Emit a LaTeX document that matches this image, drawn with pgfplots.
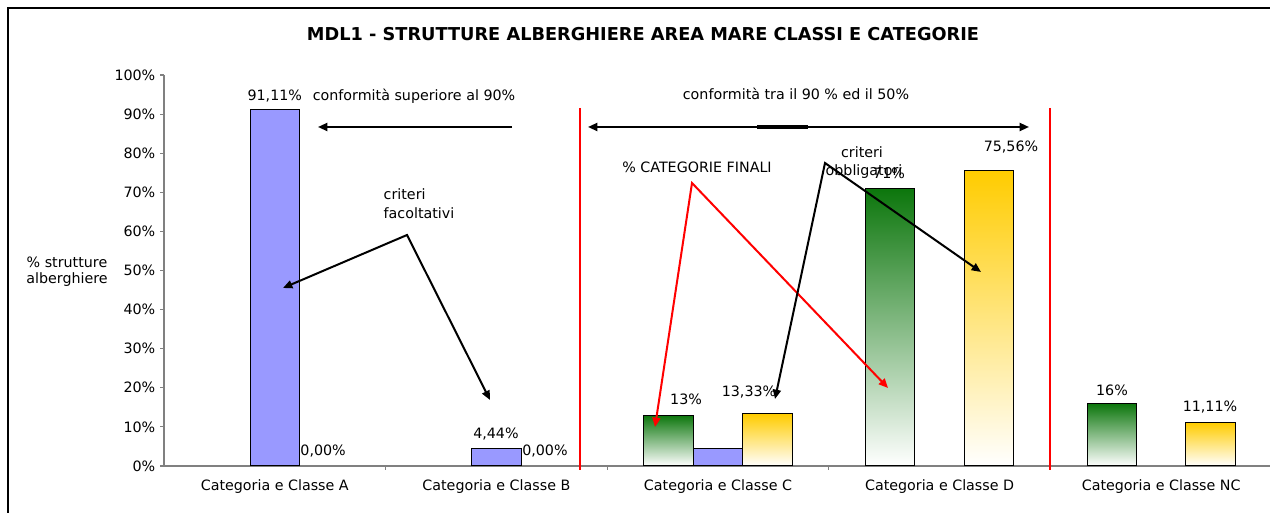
\documentclass[border=0pt]{standalone}
\usepackage{fontspec}
\setmainfont{DejaVu Sans}
\usepackage{pgfplots}
\pgfplotsset{compat=1.18}
\usetikzlibrary{arrows.meta}

\definecolor{barblue}{RGB}{153,153,255}
\definecolor{bargreen}{RGB}{12,118,12}
\definecolor{baryellow}{RGB}{255,204,0}
\definecolor{axisgray}{RGB}{128,128,128}
\newcommand{\lbl}{\fontsize{10.7}{12}\selectfont}

\begin{document}
\begin{tikzpicture}[x=0.75pt,y=0.75pt]
\useasboundingbox (0,0) rectangle (1270,513);

% axis box: left edge at x=164 px, x axis at y=466 px (from top)
\begin{axis}[
    at={(123pt,35.25pt)}, anchor=south west,
    scale only axis,
    width=831pt, height=293.25pt,
    xmin=-0.5, xmax=4.5,
    ymin=0, ymax=100,
    ybar, bar width=37.1pt,
    axis x line*=bottom, axis y line*=left,
    axis line style={axisgray, line width=1pt, -},
    tick align=outside,
    tick style={axisgray, line width=0.8pt},
    major tick length=3pt,
    xtick={0,1,2,3,4},
    xticklabels={Categoria e Classe A, Categoria e Classe B, Categoria e Classe C,
                 Categoria e Classe D, Categoria e Classe NC},
    major x tick style={draw=none},
    minor xtick={0.5,1.5,2.5,3.5},
    minor tick length=3pt,
    ytick={0,10,...,100},
    yticklabels={0\%,10\%,20\%,30\%,40\%,50\%,60\%,70\%,80\%,90\%,100\%},
    ticklabel style={font=\lbl},
    xticklabel style={yshift=-4pt},
    clip=false,
    green bar/.style={draw=black, line width=0.75pt, bar shift=-37.1pt,
        top color=bargreen, bottom color=white},
    blue bar/.style={draw=black, line width=0.75pt, bar shift=0pt, fill=barblue},
    yellow bar/.style={draw=black, line width=0.75pt, bar shift=37.1pt,
        top color=baryellow, bottom color=white},
]

% categorie finali (verde) - one plot per bar so each bar gets its own gradient
\addplot[green bar] coordinates {(2,13)};
\addplot[green bar] coordinates {(3,71)};
\addplot[green bar] coordinates {(4,16)};

% criteri facoltativi (blu)
\addplot[blue bar] coordinates {(0,91.11) (1,4.44) (2,4.44)};

% criteri obbligatori (giallo)
\addplot[yellow bar] coordinates {(2,13.33)};
\addplot[yellow bar] coordinates {(3,75.56)};
\addplot[yellow bar] coordinates {(4,11.11)};

% value labels
\node[font=\lbl] at (axis cs:0.0,94.6) {91,11\%};
\node[font=\lbl] at (axis cs:0.218,3.84) {0,00\%};
\node[font=\lbl] at (axis cs:0.998,8.18) {4,44\%};
\node[font=\lbl] at (axis cs:1.219,3.84) {0,00\%};
\node[font=\lbl] at (axis cs:1.856,17.1) {13\%};
\node[font=\lbl] at (axis cs:2.140,18.9) {13,33\%};
\node[font=\lbl] at (axis cs:2.772,74.9) {71\%};
\node[font=\lbl] at (axis cs:3.322,81.6) {75,56\%};
\node[font=\lbl] at (axis cs:3.778,19.4) {16\%};
\node[font=\lbl] at (axis cs:4.220,15.1) {11,11\%};
\end{axis}

% annotations in pixel coordinates measured from the top-left corner
\begin{scope}[y={(0pt,-0.75pt)}, shift={(0pt,384.75pt)}]
% chart frame (right and bottom edges are cut off in the reference)
\draw[black, line width=1.1pt] (8,513) -- (8,8) -- (1270,8);

% title and axis name
\node[font=\fontsize{13.3}{16}\selectfont\bfseries] at (643,34)
    {MDL1 - STRUTTURE ALBERGHIERE AREA MARE CLASSI E CATEGORIE};
\node[font=\lbl] at (67,262) {\% strutture};
\node[font=\lbl] at (67,280) {alberghiere};

% separators
\draw[red, line width=0.9pt] (580,108) -- (580,470);
\draw[red, line width=0.9pt] (1050,108) -- (1050,470);

% notes
\node[font=\lbl] at (414,96) {conformità superiore al 90\%};
\node[font=\lbl] at (796,94) {conformità tra il 90 \% ed il 50\%};
\node[font=\lbl, anchor=west] at (379,194) {criteri};
\node[font=\lbl, anchor=west] at (379,213) {facoltativi};
\node[font=\lbl] at (697,167) {\% CATEGORIE FINALI};
\node[font=\lbl] at (862,152) {criteri};
\node[font=\lbl] at (864,172) {obbligatori};

\tikzset{tri/.style={-{Triangle[length=7pt,width=6pt]}},
         tri2/.style={{Triangle[length=7pt,width=6pt]}-{Triangle[length=7pt,width=6pt]}}}
\draw[tri, line width=1.5pt] (512,127) -- (318,127);
\draw[tri2, line width=1.5pt] (588,127) -- (1029,127);
\draw[line width=2.4pt] (757,127) -- (808,127);
\draw[tri2, line width=1.5pt] (283,288) -- (407,235) -- (490,400);
\draw[tri2, red, line width=1.5pt] (655,427) -- (692,183) -- (888,388);
\draw[tri2, line width=1.5pt] (775,399) -- (825,163) -- (981,272);
\end{scope}
\end{tikzpicture}
\end{document}
